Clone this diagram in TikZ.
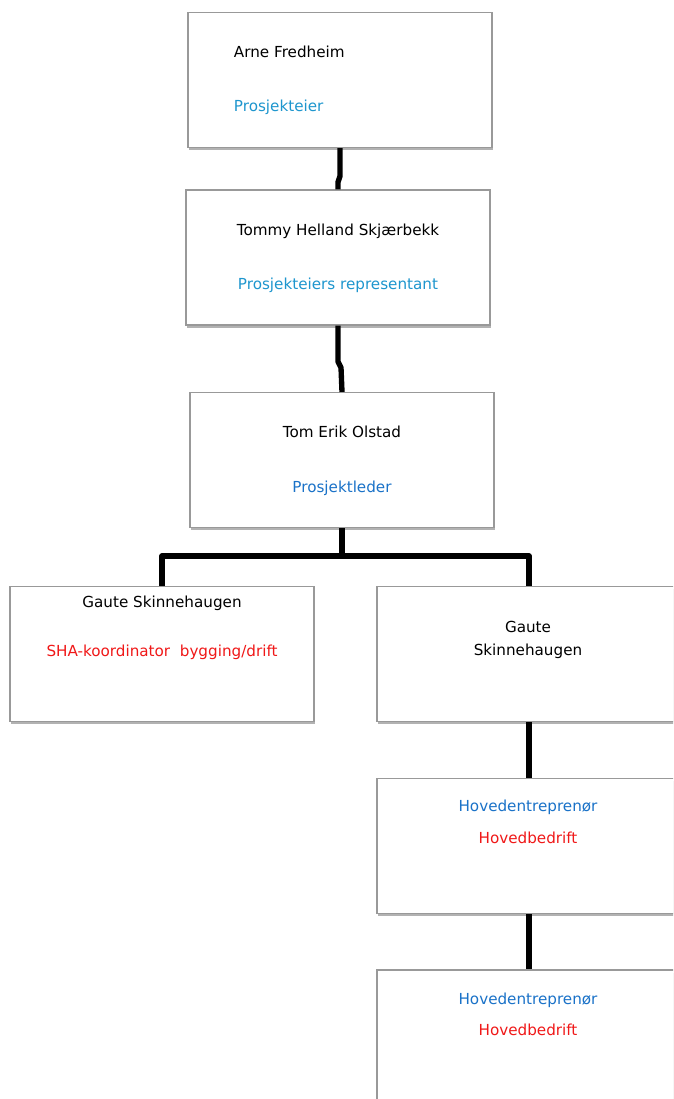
\documentclass[tikz,border=0pt]{standalone}
\usepackage{fontspec}
\setmainfont{DejaVu Sans}
\usetikzlibrary{shadows}
\definecolor{eierblaa}{RGB}{30,150,206}
\definecolor{lederblaa}{RGB}{26,114,200}
\definecolor{shahrod}{RGB}{240,24,24}
\begin{document}
\begin{tikzpicture}[x=0.025cm, y=-0.025cm,
  boks/.style={draw=black!40, line width=0.8pt, fill=white, minimum width=7.6cm, minimum height=3.375cm,
    drop shadow={shadow xshift=0.8pt, shadow yshift=-1.8pt, opacity=0.3, fill=black}},
  tekst/.style={anchor=base, font=\fontsize{10.8}{13}\selectfont},
  linje/.style={line width=3.8pt, line join=round}]

\fill[white] (0,0) rectangle (673,1099);
\useasboundingbox (0,0) rectangle (673,1099);
\clip (0,0) rectangle (673,1099);

\node[boks] (eier) at (340,80) {};
\node[boks] (eierrep) at (338,257.5) {};
\node[boks] (leder) at (342,460) {};
\node[boks] (sha) at (162,654) {};
\node[boks] (gaute) at (529,654) {};
\node[boks] (hoved1) at (529,846) {};
\node[boks] (hoved2) at (529,1037.5) {};

\node[tekst, anchor=base west] (eiernavn) at (229,57) {Arne Fredheim};
\node[tekst, anchor=base west, text=eierblaa] (eierrolle) at (229,111) {Prosjekteier};
\node[tekst] (repnavn) at (338,235) {Tommy Helland Skjærbekk};
\node[tekst, text=eierblaa] (reprolle) at (338,289) {Prosjekteiers representant};
\node[tekst] (ledernavn) at (342,437) {Tom Erik Olstad};
\node[tekst, text=lederblaa] (lederrolle) at (342,492) {Prosjektleder};
\node[tekst] (shanavn) at (162,607) {Gaute Skinnehaugen};
\node[tekst, text=shahrod] (sharolle) at (162,656) {SHA-koordinator\ \ bygging/drift};
\node[tekst] (gautefor) at (528,632) {Gaute};
\node[tekst] (gauteetter) at (528,655) {Skinnehaugen};
\node[tekst, text=lederblaa] (hoved1rolle) at (528,811) {Hovedentreprenør};
\node[tekst, text=shahrod] (hoved1bedrift) at (528,843) {Hovedbedrift};
\node[tekst, text=lederblaa] (hoved2rolle) at (528,1004) {Hovedentreprenør};
\node[tekst, text=shahrod] (hoved2bedrift) at (528,1035) {Hovedbedrift};

\draw[linje] (eier.south) -- ++(0,28) -- ++(-2,6) -- (eierrep.north);
\draw[linje] (eierrep.south) -- ++(0,36) -- ++(3,6) -- (leder.north);
\draw[linje] (leder.south) -- ++(0,31);
\draw[linje] (sha.north) -- ++(0,-30) -| (gaute.north);
\draw[linje] (gaute) -- (hoved1);
\draw[linje] (hoved1) -- (hoved2);

\end{tikzpicture}
\end{document}
